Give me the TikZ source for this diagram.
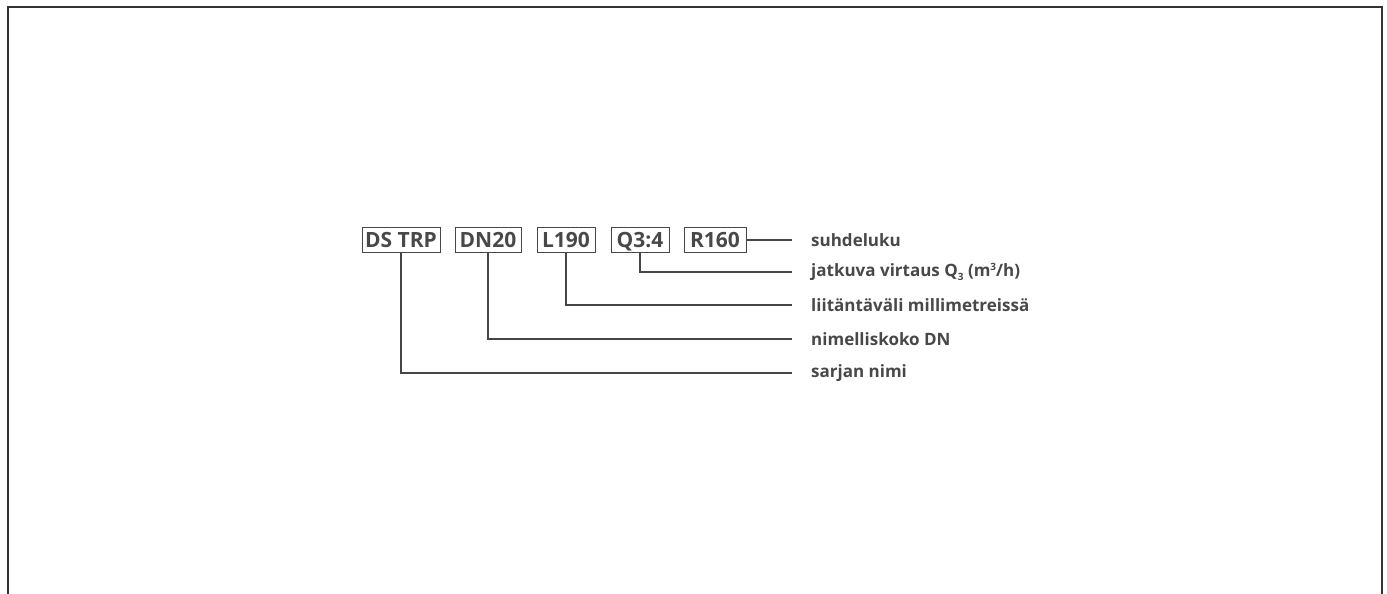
\documentclass[tikz,border=0pt]{standalone}
\usepackage{fontspec}
\setmainfont{Open Sans}
\definecolor{txt}{RGB}{72,72,72}
\definecolor{ln}{RGB}{70,70,70}
\newcommand{\mysub}[1]{\raisebox{-3.5pt}{\fontsize{10}{10}\selectfont #1}}
\newcommand{\mysup}[1]{\raisebox{6pt}{\fontsize{10}{10}\selectfont #1}}
\begin{document}
\begin{tikzpicture}[x=1pt,y=-1pt,
  codebox/.style={draw=ln,line width=0.9pt,minimum height=25pt,inner sep=0pt,
    text height=15pt,text depth=0pt,
    font=\fontsize{21}{21}\selectfont\bfseries,text=txt},
  lbl/.style={anchor=west,inner sep=0pt,font=\fontsize{17}{17}\selectfont\bfseries,text=txt},
  conn/.style={draw=ln,line width=1.1pt}]
\useasboundingbox (0,0) rectangle (1387,594);
\draw[line width=2pt,color=black!80] (7.5,600) -- (7.5,7.5) -- (1382,7.5) -- (1382,600);
\node[codebox,minimum width=78pt] (b1) at (401,240) {DS TRP};
\node[codebox,minimum width=66pt] (b2) at (488,240) {DN20};
\node[codebox,minimum width=58pt] (b3) at (566,240) {L190};
\node[codebox,minimum width=58pt] (b4) at (640,240) {Q3:4};
\node[codebox,minimum width=62pt] (b5) at (715,240) {R160};
\node[lbl] (t1) at (811,240) {suhdeluku};
\node[lbl] (t2) at (811,272) {jatkuva virtaus Q\mysub{3} (m\mysup{3}/h)};
\node[lbl] (t3) at (811,305) {liitäntäväli millimetreissä};
\node[lbl] (t4) at (811,339) {nimelliskoko DN};
\node[lbl] (t5) at (811,373) {sarjan nimi};
\coordinate (e1) at (792,240);
\coordinate (e2) at (792,272);
\coordinate (e3) at (792,305);
\coordinate (e4) at (792,339);
\coordinate (e5) at (792,373);
\draw[conn] (b5.east) -- (e1);
\draw[conn] (b4.south) |- (e2);
\draw[conn] (b3.south) |- (e3);
\draw[conn] (b2.south) |- (e4);
\draw[conn] (b1.south) |- (e5);
\end{tikzpicture}
\end{document}
